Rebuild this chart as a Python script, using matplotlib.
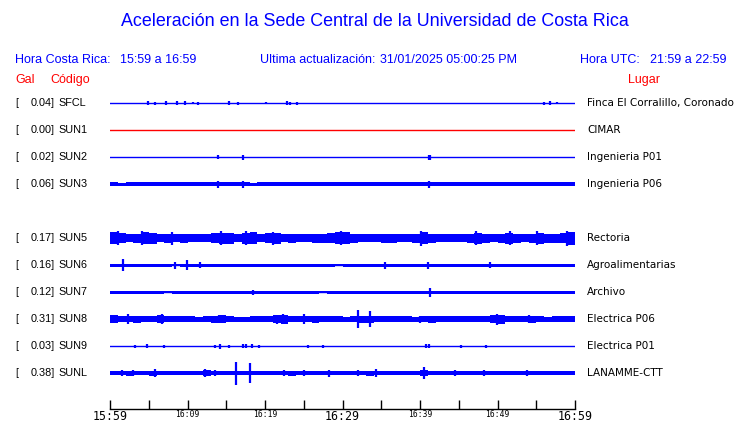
import matplotlib
matplotlib.use("Agg")
import matplotlib.pyplot as plt
import numpy as np

# station info
codes = ["SFCL", "SUN1", "SUN2", "SUN3", "SUN5", "SUN6", "SUN7", "SUN8", "SUN9", "SUNL"]
gal = [0.04, 0.00, 0.02, 0.06, 0.17, 0.16, 0.12, 0.31, 0.03, 0.38]
places = ["Finca El Corralillo, Coronado", "CIMAR", "Ingenieria P01", "Ingenieria P06",
          "Rectoria", "Agroalimentarias", "Archivo", "Electrica P06", "Electrica P01",
          "LANAMME-CTT"]
rows = [0, 1, 2, 3, 5, 6, 7, 8, 9, 10]

# time axis: minutes after 15:59
tick_min = [0, 10, 20, 30, 40, 50, 60]
tick_lab = ["15:59", "16:09", "16:19", "16:29", "16:39", "16:49", "16:59"]

# envelope half-amplitude per minute (pixels)
sun3_amp = [2, 1.5, 2, 2, 2, 2, 2, 2, 2, 2, 2, 2, 2, 2, 2, 2, 2, 2, 1.5, 2,
            2, 2, 2, 2, 2, 2, 2, 2, 2, 2, 2, 2, 2, 2, 2, 2, 2, 2, 2, 2,
            2, 2, 2, 2, 2, 2, 2, 2, 2, 2, 2, 2, 2, 2, 2, 2, 2, 2, 2, 2]
sun5_amp = [6, 5, 4, 4.5, 6, 5.5, 4, 4.5, 4, 4.5, 4, 4, 4, 5, 5.5, 5.5, 4, 5.5, 6, 4,
            5, 5.5, 4, 4.5, 4, 4, 4.5, 4.5, 5, 6, 6, 4.5, 4, 4, 4, 4.5, 4.5, 4, 4, 4.5,
            6, 4.5, 4, 4, 4, 4, 4.5, 5.5, 4.5, 4, 4.5, 5.5, 4.5, 4, 4.5, 5.5, 4.5, 4.5, 5, 6.5]
sun6_amp = [1.5, 1.5, 1.5, 1.5, 1.5, 1.5, 1.5, 1.5, 0.8, 1.5, 1.5, 1.5, 1.5, 1.5, 1.5, 1.5, 1.5, 1.5, 1.5, 1.5,
            1.5, 1.5, 1.5, 1.5, 1.5, 1.5, 1.5, 1.5, 1.5, 0.8, 1.5, 1.5, 1.5, 1.5, 1.5, 1.5, 1.5, 1.5, 1.5, 1.5,
            1.5, 1.5, 1.5, 1.5, 1.5, 1.5, 1.5, 1.5, 1.5, 1.5, 1.5, 1.5, 1.5, 1.5, 1.5, 1.5, 1.5, 1.5, 1.5, 1.5]
sun7_amp = [1.5, 1.5, 1.5, 1.5, 1.5, 1.5, 1.5, 0.8, 1.5, 1.5, 1.5, 1.5, 1.5, 1.5, 1.5, 1.5, 1.5, 1.5, 1.5, 1.5,
            1.5, 1.5, 1.5, 1.5, 1.5, 1.5, 1.5, 0.8, 1.5, 1.5, 1.5, 1.5, 1.5, 1.5, 1.5, 1.5, 1.5, 1.5, 1.5, 1.5,
            1.5, 1.5, 1.5, 1.5, 1.5, 1.5, 1.5, 1.5, 1.5, 1.5, 1.5, 1.5, 1.5, 1.5, 1.5, 1.5, 1.5, 1.5, 1.5, 1.5]
sun8_amp = [4, 3, 3, 3.5, 3, 3, 4, 3, 3, 3, 3, 2.5, 3, 3.5, 4, 3, 2.5, 2.5, 3, 3,
            3, 4, 4.5, 3, 3, 3, 3.5, 3, 3, 3, 2.5, 3, 3.5, 3.5, 3, 3, 3, 3, 3, 2.5,
            3, 3.5, 3, 3, 3, 3, 3, 3, 3, 4, 4.5, 3, 3, 3, 3.5, 3, 2.5, 3, 3, 3]
sunl_amp = [2, 2, 2.5, 2, 2, 2.5, 2, 2, 2, 2, 2, 2, 3, 2, 2, 2, 2, 2, 2, 2,
            2, 2, 2, 2.5, 2, 2, 2, 2, 2, 2, 2, 2, 2, 2.5, 2, 2, 2, 2, 2, 2,
            3, 2, 2, 2, 2, 2, 2, 2, 2, 2, 2, 2, 2, 2, 2, 2, 2, 2, 2, 2]

# isolated peaks: (minute, half-amplitude in pixels)
sfcl_pk = [(4.9, 2), (5.8, 1.5), (7.2, 2), (8.6, 2), (9.7, 2), (10.7, 1), (11.4, 1.5),
           (15.4, 2), (16.5, 1.5), (20.1, 1), (22.8, 2), (23.2, 1.5), (24.1, 1.5),
           (56.0, 1.5), (56.8, 2), (57.7, 1)]
sun2_pk = [(13.9, 2), (17.2, 2.5), (41.1, 2.5), (41.3, 2.5)]
sun3_pk = [(13.9, 3.5), (17.2, 3.5), (41.2, 3.5)]
sun5_pk = [(1.0, 7), (4.1, 7), (8.0, 6.5), (14.3, 7), (17.6, 7), (21.0, 6.5), (29.8, 7),
           (40.1, 7.5), (47.2, 7), (51.6, 7), (55.1, 7), (59.0, 7.5)]
sun6_pk = [(1.7, 6), (8.4, 3.5), (9.9, 5), (11.6, 3), (35.5, 3.5), (41.0, 3.5), (49.0, 3)]
sun7_pk = [(18.5, 2.5), (41.3, 4.5)]
sun8_pk = [(2.3, 5), (6.7, 5), (14.0, 4), (21.6, 4.5), (22.3, 5), (25.0, 5), (32.0, 9),
           (33.5, 8), (40.0, 3.5), (49.9, 5.5), (54.0, 4)]
sun9_pk = [(3.2, 1.5), (4.8, 2), (7.0, 1.5), (13.6, 1.5), (14.2, 2.5), (15.3, 1.5),
           (17.2, 2), (17.6, 2), (18.3, 2), (19.2, 1.5), (25.6, 1.5), (27.5, 1.5),
           (40.8, 2), (41.2, 2), (45.3, 1.5), (48.5, 1.5)]
sunl_pk = [(1.5, 3), (3.0, 3), (5.8, 4), (12.3, 4), (13.5, 3), (16.3, 11.5), (18.0, 10),
           (22.5, 3), (25.0, 3), (28.3, 3.5), (32.0, 3), (34.3, 4), (40.5, 6), (44.5, 3),
           (48.3, 3), (53.8, 3)]

amps = [None, None, None, sun3_amp, sun5_amp, sun6_amp, sun7_amp, sun8_amp, None, sunl_amp]
peaks = [sfcl_pk, [], sun2_pk, sun3_pk, sun5_pk, sun6_pk, sun7_pk, sun8_pk, sun9_pk, sunl_pk]

W, H = 740, 423
BLUE = "#0000ff"
RED = "#ff0000"
px = 1 / 27.0  # one pixel in row units

fig = plt.figure(figsize=(W / 100, H / 100), dpi=100)
ax = fig.add_axes([110 / W, (H - 409) / H, 465 / W, (409 - 76) / H])
ax.set_xlim(0, 60)
ax.set_ylim(11.3333, -1)

for i in range(len(codes)):
    r = rows[i]
    col = RED if codes[i] == "SUN1" else BLUE
    ax.plot([0, 60], [r, r], color=col, lw=1.0)
    if amps[i] is not None:
        a = np.array(amps[i] + [amps[i][-1]]) * px
        t = np.arange(61)
        ax.fill_between(t, r - a, r + a, step="post", color=col, lw=0)
    for m, h in peaks[i]:
        ax.vlines(m, r - h * px, r + h * px, color=col, lw=1.6)

for s in ["left", "right", "top"]:
    ax.spines[s].set_visible(False)
ax.spines["bottom"].set_linewidth(1.0)
ax.set_yticks([])
ax.set_xticks(np.arange(0, 61, 5))
ax.set_xticklabels([tick_lab[tick_min.index(m)] if m in tick_min else "" for m in range(0, 61, 5)],
                   family="DejaVu Sans Mono")
for lab, m in zip(ax.get_xticklabels(), range(0, 61, 5)):
    lab.set_fontsize(8.4 if m in (0, 30, 60) else 5.8)
ax.tick_params(axis="x", direction="in", length=6.5, width=1, pad=0.5, colors="black")


def ftext(x, y, s, **kw):
    fig.text(x / W, 1 - y / H, s, va="center", **kw)


ftext(375, 22, "Aceleración en la Sede Central de la Universidad de Costa Rica",
      ha="center", color=BLUE, fontsize=12.9, family="Liberation Sans")
hdr = dict(color=BLUE, fontsize=9, family="Liberation Sans")
ftext(15, 60, "Hora Costa Rica:", **hdr)
ftext(120, 60, "15:59 a 16:59", **hdr)
ftext(260, 60, "Ultima actualización:", **hdr)
ftext(380, 60, "31/01/2025 05:00:25 PM", **hdr)
ftext(580, 60, "Hora UTC:", **hdr)
ftext(650, 60, "21:59 a 22:59", **hdr)
red = dict(color=RED, fontsize=9, family="Liberation Sans")
ftext(15, 80, "Gal", **red)
ftext(50, 80, "Código", **red)
ftext(628, 80, "Lugar", **red)

for i in range(len(codes)):
    y = 103 + rows[i] * 27
    ftext(15, y, "[", color="black", fontsize=7.8, family="Liberation Sans")
    ftext(55, y, "%.2f]" % gal[i], ha="right", color="black", fontsize=7.8,
          family="Liberation Sans")
    ftext(58, y, codes[i], color="black", fontsize=7.8, family="Liberation Sans")
    ftext(587, y, places[i], color="black", fontsize=7.5, family="DejaVu Sans")

fig.savefig("out.png", dpi=100, facecolor="white")
